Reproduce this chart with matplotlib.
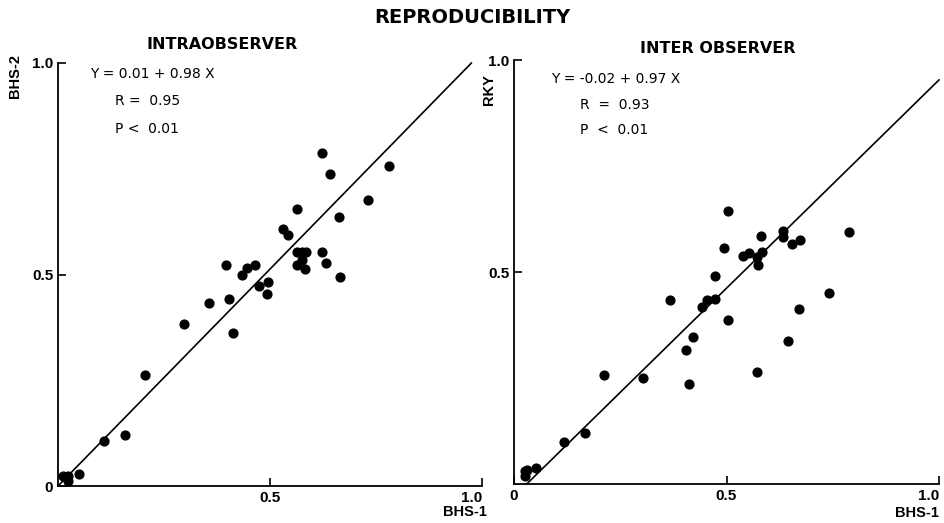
import matplotlib
matplotlib.use("Agg")
import matplotlib.pyplot as plt
import numpy as np

plt.rcParams['font.family'] = ['Liberation Sans', 'DejaVu Sans']

# Intraobserver data (BHS-1 vs BHS-2)
intra_x = [0.012, 0.024, 0.024, 0.050, 0.108, 0.158, 0.205, 0.297, 0.356, 0.396,
           0.403, 0.413, 0.434, 0.446, 0.465, 0.474, 0.495, 0.493, 0.531, 0.542,
           0.564, 0.564, 0.575, 0.585, 0.575, 0.564, 0.583, 0.623, 0.632, 0.665,
           0.623, 0.642, 0.663, 0.731, 0.781]
intra_y = [0.024, 0.024, 0.012, 0.028, 0.106, 0.120, 0.262, 0.383, 0.433, 0.522,
           0.442, 0.362, 0.499, 0.515, 0.522, 0.473, 0.482, 0.454, 0.608, 0.593,
           0.655, 0.553, 0.553, 0.553, 0.534, 0.522, 0.513, 0.553, 0.527, 0.494,
           0.787, 0.738, 0.636, 0.676, 0.757]

# Interobserver data (BHS-1 vs RKY)
inter_x = [0.026, 0.031, 0.026, 0.052, 0.118, 0.167, 0.212, 0.304, 0.367, 0.412,
           0.405, 0.421, 0.442, 0.454, 0.473, 0.473, 0.504, 0.494, 0.504, 0.539,
           0.553, 0.572, 0.584, 0.574, 0.581, 0.633, 0.633, 0.654, 0.673, 0.788,
           0.741, 0.671, 0.645, 0.572]
inter_y = [0.031, 0.033, 0.019, 0.038, 0.099, 0.120, 0.257, 0.250, 0.434, 0.236,
           0.316, 0.347, 0.417, 0.434, 0.491, 0.436, 0.644, 0.557, 0.387, 0.538,
           0.545, 0.535, 0.547, 0.517, 0.585, 0.597, 0.583, 0.566, 0.575, 0.594,
           0.450, 0.413, 0.337, 0.264]

# Regression lines as drawn in the figure (end points)
intra_line_x = [0.0, 0.975]
intra_line_y = [0.0, 1.0]
inter_line_x = [0.03, 1.0]
inter_line_y = [0.0, 0.953]

WIDE = ['DejaVu Sans']

fig = plt.figure(figsize=(9.44, 5.23), dpi=100)

ax1 = fig.add_axes([58/944, 37/523, 424/944, 423/523])
ax2 = fig.add_axes([514/944, 39/523, 425/944, 424/523])

for ax in (ax1, ax2):
    ax.set_xlim(0, 1.0)
    ax.set_ylim(0, 1.0)
    ax.spines['top'].set_visible(False)
    ax.spines['right'].set_visible(False)
    ax.spines['left'].set_linewidth(1.3)
    ax.spines['bottom'].set_linewidth(1.3)
    ax.tick_params(direction='in', length=6, width=1.2, labelsize=11)

# Left panel
ax1.plot(intra_line_x, intra_line_y, color='black', lw=1.2, clip_on=False)
ax1.scatter(intra_x, intra_y, s=40, color='black', clip_on=False, zorder=3)
ax1.set_xticks([0.5, 1.0])
ax1.set_xticklabels(['0.5', '1.0'], fontweight='bold', fontsize=11)
ax1.get_xticklabels()[-1].set_horizontalalignment('right')
ax1.set_yticks([0, 0.5, 1.0])
ax1.set_yticklabels(['0', '0.5', '1.0'], fontweight='bold', fontsize=11)
ax1.text(1.012, -0.062, 'BHS-1', transform=ax1.transAxes, ha='right', va='center',
         fontsize=10.5, fontweight='bold')
ax1.text(-0.101, 0.97, 'BHS-2', transform=ax1.transAxes, ha='center', va='center',
         rotation=90, fontsize=10.5, fontweight='bold')
ax1.text(0.387, 1.043, 'INTRAOBSERVER', transform=ax1.transAxes, ha='center',
         va='center', fontsize=11.5, fontweight='bold', family=WIDE)
ax1.text(0.075, 0.975, 'Y = 0.01 + 0.98 X', transform=ax1.transAxes, fontsize=10,
         va='center', family=WIDE)
ax1.text(0.135, 0.91, 'R =  0.95', transform=ax1.transAxes, fontsize=10,
         va='center', family=WIDE)
ax1.text(0.135, 0.845, 'P <  0.01', transform=ax1.transAxes, fontsize=10,
         va='center', family=WIDE)

# Right panel
ax2.plot(inter_line_x, inter_line_y, color='black', lw=1.2, clip_on=False)
ax2.scatter(inter_x, inter_y, s=40, color='black', clip_on=False, zorder=3)
ax2.set_xticks([0, 0.5, 1.0])
ax2.set_xticklabels(['0', '0.5', '1.0'], fontweight='bold', fontsize=11)
ax2.get_xticklabels()[-1].set_horizontalalignment('right')
ax2.set_yticks([0.5, 1.0])
ax2.set_yticklabels(['0.5', '1.0'], fontweight='bold', fontsize=11)
ax2.text(1.0, -0.068, 'BHS-1', transform=ax2.transAxes, ha='right', va='center',
         fontsize=10.5, fontweight='bold')
ax2.text(-0.059, 0.93, 'RKY', transform=ax2.transAxes, ha='center', va='center',
         rotation=90, fontsize=10.5, fontweight='bold')
ax2.text(0.48, 1.028, 'INTER OBSERVER', transform=ax2.transAxes, ha='center',
         va='center', fontsize=11.5, fontweight='bold', family=WIDE)
ax2.text(0.088, 0.955, 'Y = -0.02 + 0.97 X', transform=ax2.transAxes, fontsize=10,
         va='center', family=WIDE)
ax2.text(0.155, 0.895, 'R  =  0.93', transform=ax2.transAxes, fontsize=10,
         va='center', family=WIDE)
ax2.text(0.155, 0.835, 'P  <  0.01', transform=ax2.transAxes, fontsize=10,
         va='center', family=WIDE)

fig.text(0.5, 0.967, 'REPRODUCIBILITY', ha='center', va='center', fontsize=14,
         fontweight='bold', family=WIDE)

fig.savefig('out.png', dpi=100)
